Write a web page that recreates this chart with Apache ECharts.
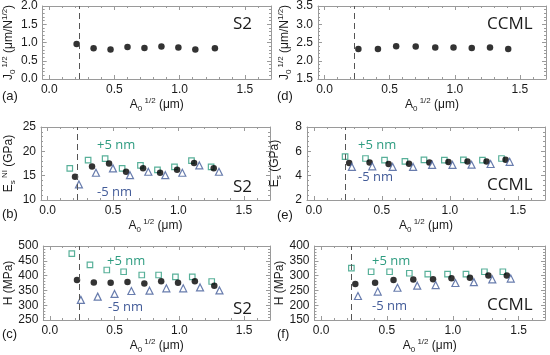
<!DOCTYPE html>
<html><head><meta charset="utf-8">
<script src="https://cdn.jsdelivr.net/npm/echarts@6/dist/echarts.min.js"></script>
<style>html,body{margin:0;padding:0;background:#fff}#c{width:550px;height:355px}</style>
</head><body><div id="c"></div>
<script>
// ---- data ----
const xTicks = [0, 0.5, 1.0, 1.5];
const xMinorTicks = [0,0.1,0.2,0.3,0.4,0.5,0.6,0.7,0.8,0.9,1.0,1.1,1.2,1.3,1.4,1.5,1.6,1.7];
const dashX = 0.23;

const s2CircleX = [0.21,0.34,0.47,0.60,0.73,0.86,0.99,1.12,1.27];
const s2SquareX = [0.17,0.31,0.44,0.57,0.71,0.84,0.97,1.10,1.25];
const s2TriX    = [0.24,0.37,0.50,0.63,0.77,0.90,1.03,1.16,1.31];
const ccCircleX = [0.26,0.41,0.55,0.70,0.85,0.99,1.13,1.27,1.41];
const ccSquareX = [0.23,0.38,0.52,0.67,0.81,0.96,1.10,1.24,1.38];
const ccTriX    = [0.28,0.43,0.58,0.73,0.87,1.02,1.16,1.30,1.44];

const s2J = [0.96,0.84,0.81,0.88,0.85,0.89,0.86,0.81,0.84];
const ccJ = [2.32,2.32,2.40,2.39,2.36,2.36,2.35,2.36,2.32];

const s2E      = [14.8,16.9,17.5,15.8,16.5,15.6,16.2,17.6,16.5];
const s2Eplus  = [16.5,18.2,18.5,16.5,17.1,16.2,16.8,18.1,16.8];
const s2Eminus = [13.2,15.6,16.5,15.1,15.8,15.1,15.6,17.1,15.8];
const ccE      = [5.04,5.09,4.96,4.98,5.09,5.12,5.17,5.17,5.30];
const ccEplus  = [5.57,5.41,5.28,5.17,5.30,5.28,5.30,5.28,5.41];
const ccEminus = [4.72,4.77,4.72,4.72,4.88,4.88,4.90,4.96,5.14];

const s2H      = [385,377,376,378,373,381,376,381,366];
const s2Hplus  = [474,436,419,413,402,402,396,396,380];
const s2Hminus = [318,329,338,348,349,357,357,360,350];
const ccH      = [272,276,285,287,288,291,293,300,300];
const ccHplus  = [325,313,313,308,305,305,305,313,313];
const ccHminus = [231,246,259,266,268,275,278,287,290];

// ---- styling ----
const TEAL = '#2e9c80';
const BLUE = '#425b98';
const AXC = '#9a9a9a';
const TXT = '#1a1a1a';
const FONT = 'Liberation Sans, Arial, sans-serif';
const SANS2 = 'Open Sans, sans-serif';

const rich = {
  m:   {fontSize: 12, fontFamily: FONT, color: TXT, lineHeight: 16},
  sub: {fontSize: 8,  fontFamily: FONT, color: TXT, lineHeight: 8, verticalAlign: 'bottom'},
  sup: {fontSize: 8,  fontFamily: FONT, color: TXT, lineHeight: 8, verticalAlign: 'top'}
};
const xName = '{m|A}{sub|0}{sup| 1/2}{m| (μm)}';
const nameJ = '{m|J}{sub|0}{sup| 1/2}{m| (μm/N}{sup|1/2}{m|)}';
const nameEs2 = '{m|E}{sub|s}{sup| NI}{m| (GPa)}';
const nameEcc = '{m|E}{sub|s}{m| (GPa)}';
const nameH = '{m|H (MPa)}';

const zip = (xs, ys) => xs.map((x, i) => [x, ys[i]]);

const panels = [
  {rect:[42.7,6,271,79], y:[0,2,0.5], dec:1, name:nameJ,
   series:[{type:'c', x:s2CircleX, y:s2J}]},
  {rect:[318,6,546,79], y:[1.5,3.5,0.5], dec:1, name:nameJ,
   series:[{type:'c', x:ccCircleX, y:ccJ}]},
  {rect:[39.5,127,270,200], y:[10,25,5], dec:0, name:nameEs2,
   series:[{type:'s', x:s2SquareX, y:s2Eplus},{type:'c', x:s2CircleX, y:s2E},{type:'t', x:s2TriX, y:s2Eminus}]},
  {rect:[307,127,545,200], y:[2,8,2], dec:0, name:nameEcc,
   series:[{type:'s', x:ccSquareX, y:ccEplus},{type:'c', x:ccCircleX, y:ccE},{type:'t', x:ccTriX, y:ccEminus}]},
  {rect:[43.3,246,270,320], y:[250,500,50], dec:0, name:nameH,
   series:[{type:'s', x:s2SquareX, y:s2Hplus},{type:'c', x:s2CircleX, y:s2H},{type:'t', x:s2TriX, y:s2Hminus}]},
  {rect:[314.5,246,545,320], y:[150,400,50], dec:0, name:nameH,
   series:[{type:'s', x:ccSquareX, y:ccHplus},{type:'c', x:ccCircleX, y:ccH},{type:'t', x:ccTriX, y:ccHminus}]}
];

const grid = [], xAxis = [], yAxis = [], series = [];
panels.forEach((p, gi) => {
  const [l, t, r, b] = p.rect;
  grid.push({left: l, top: t, width: r - l, height: b - t, show: false});
  const xBase = {type:'value', gridIndex: gi, min: -0.05, max: 1.7, splitLine:{show:false}};
  xAxis.push(Object.assign({}, xBase, {
    position:'bottom',
    axisLine:{show:true, onZero:false, lineStyle:{color:AXC, width:1}},
    axisTick:{show:true, inside:true, length:4, customValues:xTicks, lineStyle:{color:AXC}},
    axisLabel:{show:true, customValues:xTicks, margin:5, color:TXT, fontSize:12, fontFamily:FONT,
               formatter: v => v.toFixed(1)},
    name: xName, nameLocation:'middle', nameGap: 17, nameTextStyle:{rich: rich}
  }));
  xAxis.push(Object.assign({}, xBase, {
    position:'bottom',
    axisLine:{show:false, onZero:false},
    axisTick:{show:true, inside:true, length:2, customValues:xMinorTicks, lineStyle:{color:AXC}},
    axisLabel:{show:false}
  }));
  xAxis.push(Object.assign({}, xBase, {
    position:'top',
    axisLine:{show:true, onZero:false, lineStyle:{color:AXC, width:1}},
    axisTick:{show:true, inside:true, length:4, customValues:xTicks, lineStyle:{color:AXC}},
    axisLabel:{show:false}
  }));
  xAxis.push(Object.assign({}, xBase, {
    position:'top',
    axisLine:{show:false, onZero:false},
    axisTick:{show:true, inside:true, length:2, customValues:xMinorTicks, lineStyle:{color:AXC}},
    axisLabel:{show:false}
  }));
  const xi = gi * 4;
  const yBase = {type:'value', gridIndex: gi, min: p.y[0], max: p.y[1], interval: p.y[2], splitLine:{show:false},
    minorTick:{show:true, splitNumber:5, length:2, lineStyle:{color:AXC}}};
  yAxis.push(Object.assign({}, yBase, {
    position:'left',
    axisLine:{show:true, onZero:false, lineStyle:{color:AXC, width:1}},
    axisTick:{show:true, inside:true, length:4, lineStyle:{color:AXC}},
    axisLabel:{show:true, margin:5, color:TXT, fontSize:12, fontFamily:FONT,
               formatter: v => v.toFixed(p.dec)},
    name: p.name, nameLocation:'middle', nameGap: 24, nameRotate: 90, nameTextStyle:{rich: rich}
  }));
  yAxis.push(Object.assign({}, yBase, {
    position:'right',
    axisLine:{show:true, onZero:false, lineStyle:{color:AXC, width:1}},
    axisTick:{show:true, inside:true, length:4, lineStyle:{color:AXC}},
    axisLabel:{show:false}
  }));
  const yi = gi * 2;
  p.series.forEach((s, si) => {
    const o = {type:'scatter', xAxisIndex: xi, yAxisIndex: yi, data: zip(s.x, s.y), silent: true, z: 3};
    if (s.type === 'c') {
      o.symbol = 'circle'; o.symbolSize = 6.5; o.itemStyle = {color:'#000'};
    } else if (s.type === 's') {
      o.symbol = 'rect'; o.symbolSize = 5.5; o.itemStyle = {color:'#fff', borderColor:TEAL, borderWidth:1.2};
    } else {
      o.symbol = 'triangle'; o.symbolSize = 7; o.itemStyle = {color:'#fff', borderColor:BLUE, borderWidth:1.2};
    }
    if (si === 0) {
      o.markLine = {silent:true, symbol:['none','none'], label:{show:false},
        lineStyle:{type:[6,4], color:'#555', width:1}, data:[{xAxis: dashX}], animation:false};
    }
    series.push(o);
  });
});

const txt = (x, y, text, color, size, family) => ({
  type:'text', x: x, y: y, silent:true,
  style:{text: text, fill: color, fontSize: size, fontFamily: family, verticalAlign:'middle', align:'left'}
});

const graphic = [
  txt(2, 96, '(a)', TXT, 13, FONT), txt(277, 96, '(d)', TXT, 13, FONT),
  txt(2, 214, '(b)', TXT, 13, FONT), txt(277, 215, '(e)', TXT, 13, FONT),
  txt(2, 334, '(c)', TXT, 13, FONT), txt(277, 334, '(f)', TXT, 13, FONT),
  txt(233, 24, 'S2', TXT, 17, SANS2), txt(487, 24, 'CCML', TXT, 17, SANS2),
  txt(97, 145, '+5 nm', TEAL, 13, SANS2), txt(97, 192, '-5 nm', BLUE, 13, SANS2), txt(233, 187, 'S2', TXT, 17, SANS2),
  txt(358, 145, '+5 nm', TEAL, 13, SANS2), txt(358, 177, '-5 nm', BLUE, 13, SANS2), txt(487, 185, 'CCML', TXT, 17, SANS2),
  txt(107, 261, '+5 nm', TEAL, 13, SANS2), txt(108, 307, '-5 nm', BLUE, 13, SANS2), txt(233, 309, 'S2', TXT, 17, SANS2),
  txt(372, 261, '+5 nm', TEAL, 13, SANS2), txt(372, 306, '-5 nm', BLUE, 13, SANS2), txt(487, 305, 'CCML', TXT, 17, SANS2)
];

const chart = echarts.init(document.getElementById('c'), null, {renderer:'canvas'});
chart.setOption({animation:false, backgroundColor:'#fff', grid, xAxis, yAxis, series, graphic});
</script></body></html>
